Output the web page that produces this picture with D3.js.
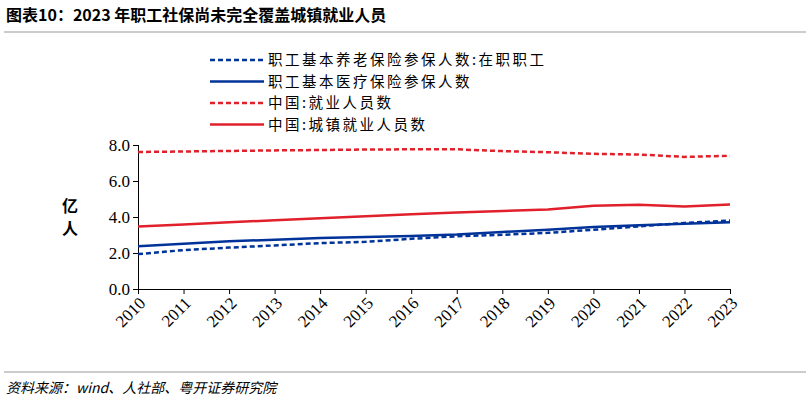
<!DOCTYPE html><html><head><meta charset="utf-8"><script src="https://d3js.org/d3.v7.min.js"></script>
<style>body{margin:0;background:#fff}</style></head><body><svg id="c" width="810" height="406"></svg><script>
const years=[2010,2011,2012,2013,2014,2015,2016,2017,2018,2019,2020,2021,2022,2023];
const pension=[1.94,2.16,2.30,2.42,2.55,2.62,2.79,2.93,3.01,3.12,3.29,3.48,3.67,3.80];
const medical=[2.37,2.52,2.65,2.74,2.83,2.89,2.95,3.03,3.17,3.29,3.45,3.54,3.62,3.71];
const employed=[7.61,7.64,7.67,7.70,7.72,7.75,7.76,7.76,7.66,7.60,7.51,7.47,7.34,7.40];
const urban=[3.47,3.59,3.71,3.82,3.93,4.04,4.15,4.25,4.34,4.42,4.63,4.68,4.59,4.70];
const yTicks=[0,2,4,6,8];
const names=["职工基本养老保险参保人数:在职职工","职工基本医疗保险参保人数","中国:就业人员数","中国:城镇就业人员数"];
const svg=d3.select("#c");const F="'Noto Sans CJK SC',serif";
svg.append("text").attr("x",6).attr("y",21).attr("font-family",F).attr("font-weight","bold").attr("font-size",16).text("图表10：2023 年职工社保尚未完全覆盖城镇就业人员");
svg.append("line").attr("x1",4).attr("x2",806).attr("y1",32).attr("y2",32).attr("stroke","#999");
svg.append("line").attr("x1",4).attr("x2",806).attr("y1",372).attr("y2",372).attr("stroke","#999");
svg.append("text").attr("x",6).attr("y",393).attr("font-family",F).attr("font-style","italic").attr("font-size",14).text("资料来源：wind、人社部、粤开证券研究院");
const x=d3.scalePoint().domain(years).range([138,730]);
const y=d3.scaleLinear().domain([0,8]).range([289,145]);
svg.append("g").attr("transform","translate(138,0)").call(d3.axisLeft(y).tickValues(yTicks).tickFormat(d3.format(".1f")).tickSize(5))
 .call(g=>{g.selectAll("text").attr("font-family","'Times New Roman','Liberation Serif',serif").attr("font-size",17).attr("fill","#000");g.select(".domain").attr("d","M-5,289.5H0.5V145")});
svg.append("g").attr("transform","translate(0,289)").call(d3.axisBottom(x).tickSize(5))
 .call(g=>{g.selectAll("text").attr("font-family","'Times New Roman','Liberation Serif',serif").attr("font-size",17).attr("fill","#000").attr("text-anchor","end").attr("transform","rotate(-45)").attr("dx","-0.3em").attr("dy","0.5em")});
svg.append("text").attr("x",62).attr("y",212).attr("font-family",F).attr("font-size",16).attr("font-weight","bold").text("亿");
svg.append("text").attr("x",62).attr("y",234).attr("font-family",F).attr("font-size",16).attr("font-weight","bold").text("人");
const series=[[pension,"#003399","5,3"],[medical,"#003399",null],[employed,"#e0202a","5,3"],[urban,"#e0202a",null]];
const line=d3.line().x((d,i)=>x(years[i])).y(d=>y(d));
series.forEach(([d,c,da],i)=>{
 svg.append("path").attr("d",line(d)).attr("fill","none").attr("stroke",c).attr("stroke-width",2.5).attr("stroke-dasharray",da);
 const ly=60+i*21.5;
 svg.append("line").attr("x1",210).attr("x2",264).attr("y1",ly).attr("y2",ly).attr("stroke",c).attr("stroke-width",2.5).attr("stroke-dasharray",da);
 svg.append("text").attr("x",268).attr("y",ly+5).attr("font-family",F).attr("font-size",14.5).attr("letter-spacing",2.5).text(names[i]);
});
</script></body></html>
